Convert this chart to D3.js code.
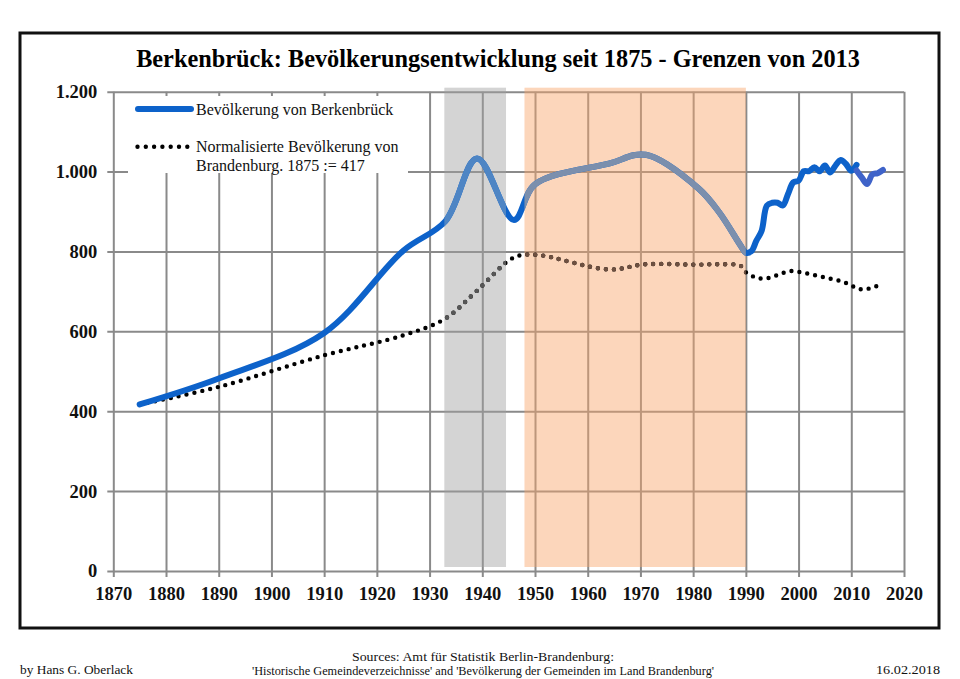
<!DOCTYPE html>
<html>
<head>
<meta charset="utf-8">
<script src="https://cdn.jsdelivr.net/npm/d3@7"></script>
<style>
  body { margin: 0; background: #fff; }
  svg { display: block; font-family: "Liberation Serif", "Times New Roman", serif; }
</style>
</head>
<body>
<svg width="960" height="679"></svg>
<script>
// Berkenbrück population
const popYears = [1875, 1890, 1910, 1925, 1933, 1939, 1946, 1950, 1964, 1971, 1981, 1985, 1989, 1990, 1991,
  1992, 1993, 1994, 1995, 1996, 1997, 1998, 1999, 2000, 2001, 2002, 2003, 2004, 2005, 2006, 2007, 2008, 2009, 2010, 2011];
const popValues = [417, 482, 596, 802, 876, 1033, 879, 968, 1020, 1042, 958, 897, 815, 797, 800,
  827, 852, 915, 922, 922, 915, 944, 973, 977, 1001, 1001, 1011, 1001, 1015, 998, 1015, 1029, 1019, 1002, 1017];

// after the 2011 census
const popYears2 = [2011, 2012, 2013, 2014, 2015, 2016];
const popValues2 = [1003, 985, 969, 993, 996, 1004];

// normalised population of Brandenburg, 1875 := 417
const normYears = [1875, 1890, 1910, 1925, 1933, 1939, 1946, 1950, 1964, 1971, 1981, 1985, 1989, 1990, 1991,
  1992, 1993, 1994, 1995, 1996, 1997, 1998, 1999, 2000, 2001, 2002, 2003, 2004, 2005, 2006, 2007, 2008, 2009,
  2010, 2011, 2012, 2013, 2014, 2015, 2016];
const normValues = [417, 461, 540, 590, 632, 702, 785, 792, 755, 768, 767, 768, 764, 748, 740,
  734, 732, 733, 736, 741, 746, 750, 751, 749, 746, 744, 741, 738, 735, 732, 729, 726, 721,
  715, 708, 705, 706, 710, 714, 719];

// shaded periods (nazi era, soviet occupation / GDR)
const periodStart = [1932.8, 1948];
const periodEnd = [1944.5, 1990];

const xTicks = [1870, 1880, 1890, 1900, 1910, 1920, 1930, 1940, 1950, 1960, 1970, 1980, 1990, 2000, 2010, 2020];
const yTicks = [0, 200, 400, 600, 800, 1000, 1200];

const title = "Berkenbrück: Bevölkerungsentwicklung seit 1875 - Grenzen von 2013";
const legendLabels = ["Bevölkerung von Berkenbrück", "Normalisierte Bevölkerung von", "Brandenburg. 1875 := 417"];
const footerLeft = "by Hans G. Oberlack";
const footerRight = "16.02.2018";
const sources = ["Sources: Amt für Statistik Berlin-Brandenburg:",
  "'Historische Gemeindeverzeichnisse' and 'Bevölkerung der Gemeinden im Land Brandenburg'"];

const de = d3.formatLocale({decimal: ",", thousands: ".", grouping: [3], currency: ["", " €"]});

const svg = d3.select('svg');

const plotLeft = 113.3, plotRight = 904, plotTop = 91.7, plotBottom = 571;
const width = plotRight - plotLeft, height = plotBottom - plotTop;

const xScale = d3.scaleLinear().domain([1870, 2020]).range([plotLeft, plotRight]);
const yScale = d3.scaleLinear().domain([0, 1200]).range([plotBottom, plotTop]);

// frame
svg.append('rect')
  .attr('x', 20).attr('y', 33)
  .attr('width', 919).attr('height', 595)
  .attr('fill', 'none')
  .attr('stroke', '#111')
  .attr('stroke-width', 3);

// title
svg.append('text')
  .attr('x', 498).attr('y', 67)
  .attr('text-anchor', 'middle')
  .attr('font-size', 24.3)
  .attr('font-weight', 'bold')
  .text(title);

// grid
const gridY = svg.append('g')
  .attr('transform', `translate(${plotLeft - 6}, 0)`)
  .call(d3.axisLeft(yScale).tickValues(yTicks).tickSize(-(width + 6)).tickFormat(''));
const gridX = svg.append('g')
  .attr('transform', `translate(0, ${plotBottom + 6})`)
  .call(d3.axisBottom(xScale).tickValues(xTicks).tickSize(-(height + 6)).tickFormat(''));
[gridY, gridX].forEach(g => {
  g.select('.domain').remove();
  g.selectAll('line').attr('stroke', '#8a8a8a').attr('stroke-width', 2);
});

// shaded periods, drawn over the grid
const shadeFill = ['#a0a0a0', '#f9a468'];
const shadeTop = yScale(1200) - 4, shadeBottom = yScale(0) - 4;
svg.append('g')
  .selectAll('rect')
  .data(periodStart)
  .enter()
  .append('rect')
  .attr('x', (d) => xScale(d))
  .attr('width', (d, i) => xScale(periodEnd[i]) - xScale(d))
  .attr('y', shadeTop)
  .attr('height', shadeBottom - shadeTop)
  .attr('fill', (d, i) => shadeFill[i])
  .attr('fill-opacity', 0.45);

// clip paths for the line colours inside the periods
const defs = svg.append('defs');
periodStart.forEach((s, i) => {
  defs.append('clipPath').attr('id', 'clip' + i)
    .append('rect')
    .attr('x', xScale(s)).attr('width', xScale(periodEnd[i]) - xScale(s))
    .attr('y', 0).attr('height', 679);
});

// legend box
svg.append('rect')
  .attr('x', 128).attr('y', 96)
  .attr('width', 280).attr('height', 77)
  .attr('fill', '#fff');

const line = d3.line()
  .x((d) => xScale(d[0]))
  .y((d) => yScale(d[1]))
  .curve(d3.curveCatmullRom.alpha(0.5));

const pop = d3.zip(popYears, popValues);
const pop2 = d3.zip(popYears2, popValues2);
const norm = d3.zip(normYears, normValues);

const dotStyle = (sel, color) => sel
  .attr('fill', 'none')
  .attr('stroke', color)
  .attr('stroke-width', 4.4)
  .attr('stroke-linecap', 'round')
  .attr('stroke-dasharray', '0 8');

const blueStyle = (sel, color) => sel
  .attr('fill', 'none')
  .attr('stroke', color)
  .attr('stroke-width', 6)
  .attr('stroke-linecap', 'round')
  .attr('stroke-linejoin', 'round');

// normalised Brandenburg
svg.append('path').datum(norm).attr('d', line).call(dotStyle, '#000');
const dotColors = ['#575757', '#6e5040'];
dotColors.forEach((c, i) => {
  svg.append('path').datum(norm).attr('d', line)
    .attr('clip-path', `url(#clip${i})`)
    .call(dotStyle, c);
});

// Berkenbrück
svg.append('path').datum(pop).attr('d', line).call(blueStyle, '#0d62ca');
const blueColors = ['#4e85c4', '#7b8fad'];
blueColors.forEach((c, i) => {
  svg.append('path').datum(pop).attr('d', line)
    .attr('clip-path', `url(#clip${i})`)
    .call(blueStyle, c);
});
svg.append('path').datum(pop2).attr('d', line).call(blueStyle, '#3f63c9');

// axis labels
const yLabels = svg.append('g')
  .attr('transform', `translate(${plotLeft}, 0)`)
  .call(d3.axisLeft(yScale).tickValues(yTicks).tickSize(0).tickPadding(16).tickFormat(de.format(',')));
const xLabels = svg.append('g')
  .attr('transform', `translate(0, ${plotBottom})`)
  .call(d3.axisBottom(xScale).tickValues(xTicks).tickSize(0).tickPadding(16).tickFormat(d3.format('d')));
[yLabels, xLabels].forEach(g => {
  g.select('.domain').remove();
  g.selectAll('text')
    .attr('font-family', '"Liberation Serif", serif')
    .attr('font-size', 18.5)
    .attr('font-weight', 'bold')
    .attr('fill', '#111');
});

// legend
svg.append('line')
  .attr('x1', 138).attr('x2', 191)
  .attr('y1', 109).attr('y2', 109)
  .call(blueStyle, '#0d62ca');
svg.append('line')
  .attr('x1', 137.5).attr('x2', 190)
  .attr('y1', 146.7).attr('y2', 146.7)
  .call(dotStyle, '#000')
  .attr('stroke-dasharray', '0 8.3');
svg.append('g')
  .selectAll('text')
  .data(legendLabels)
  .enter()
  .append('text')
  .attr('x', 196)
  .attr('y', (d, i) => [109, 146.7, 165][i])
  .attr('dy', '0.35em')
  .attr('font-size', 16)
  .attr('fill', '#111')
  .text((d) => d);

// footer
const foot = svg.append('g').attr('font-size', 13).attr('fill', '#111');
foot.append('text').attr('x', 20).attr('y', 674)
  .attr('textLength', 113).attr('lengthAdjust', 'spacingAndGlyphs')
  .text(footerLeft);
foot.append('text').attr('x', 940).attr('y', 674).attr('text-anchor', 'end')
  .attr('textLength', 64).attr('lengthAdjust', 'spacingAndGlyphs')
  .text(footerRight);
foot.selectAll('.src')
  .data(sources)
  .enter()
  .append('text')
  .attr('class', 'src')
  .attr('x', 483)
  .attr('y', (d, i) => 661 + i * 14)
  .attr('text-anchor', 'middle')
  .attr('textLength', (d, i) => [262, 462][i])
  .attr('lengthAdjust', 'spacingAndGlyphs')
  .text((d) => d);
</script>
</body>
</html>
